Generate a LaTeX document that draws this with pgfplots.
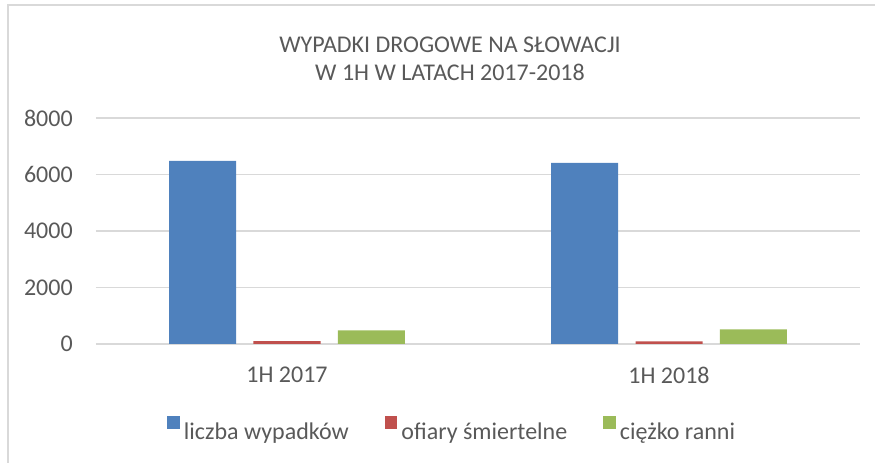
\documentclass[border=0pt]{standalone}
\usepackage{fontspec}
\setmainfont{Carlito}
\usepackage{pgfplots}
\pgfplotsset{compat=1.18}
\definecolor{cblue}{HTML}{4F81BD}
\definecolor{cred}{HTML}{C0504D}
\definecolor{cgreen}{HTML}{9BBB59}
\definecolor{gridgray}{HTML}{D9D9D9}
\definecolor{textgray}{HTML}{595959}
\newcommand\cf{\fontsize{18pt}{21.5pt}\selectfont}
\begin{document}
\cf
\begin{tikzpicture}
\path[use as bounding box] (-72pt,-89.25pt) rectangle (584.25pt,258pt);
\draw[gridgray, line width=1.2pt] (-66pt,-95pt) -- (-66pt,254.25pt) -- (590pt,254.25pt);
\node[text=textgray, inner sep=0pt, font=\cf] at (265.5pt,224.25pt) {WYPADKI DROGOWE NA SŁOWACJI};
\node[text=textgray, inner sep=0pt, font=\cf] at (265.5pt,204pt) {W 1H W LATACH 2017-2018};
\begin{axis}[
  at={(0,0)}, anchor=south west, scale only axis,
  width=573pt, height=169.5pt,
  xmin=-0.5, xmax=1.5, ymin=0, ymax=8000,
  ybar, bar width=0.1754,
  xtick={0,1}, xticklabels={1H 2017,1H 2018},
  ytick={0,2000,4000,6000,8000},
  ymajorgrids, grid style={draw=gridgray, line width=1pt},
  axis line style={draw=none},
  major tick length=0pt,
  tick label style={font=\cf, text=textgray, inner sep=0pt},
  yticklabel style={anchor=east, xshift=-17.25pt},
  xticklabel style={anchor=center, yshift=-23.25pt},
  /pgf/number format/1000 sep={},
  /pgf/number format/assume math mode=true,
  legend style={at={(0.0929,-0.378)}, anchor=west, draw=none, fill=none,
    inner sep=0pt, font=\cf, text=textgray, legend columns=3,
    /tikz/every odd column/.append style={column sep=3pt},
    /tikz/every even column/.append style={column sep=27pt},
    nodes={inner sep=0pt}},
  legend image code/.code={\fill[#1] (0pt,3.2pt) rectangle (9.5pt,12.7pt);},
]
\addplot[fill=cblue, draw=none, bar shift=-0.221] coordinates {(0,6480) (1,6410)};
\addplot[fill=cred, draw=none, bar shift=0] coordinates {(0,100) (1,95)};
\addplot[fill=cgreen, draw=none, bar shift=0.221] coordinates {(0,483) (1,519)};
\legend{liczba wypadków, ofiary śmiertelne, ciężko ranni}
\end{axis}
\end{tikzpicture}
\end{document}
